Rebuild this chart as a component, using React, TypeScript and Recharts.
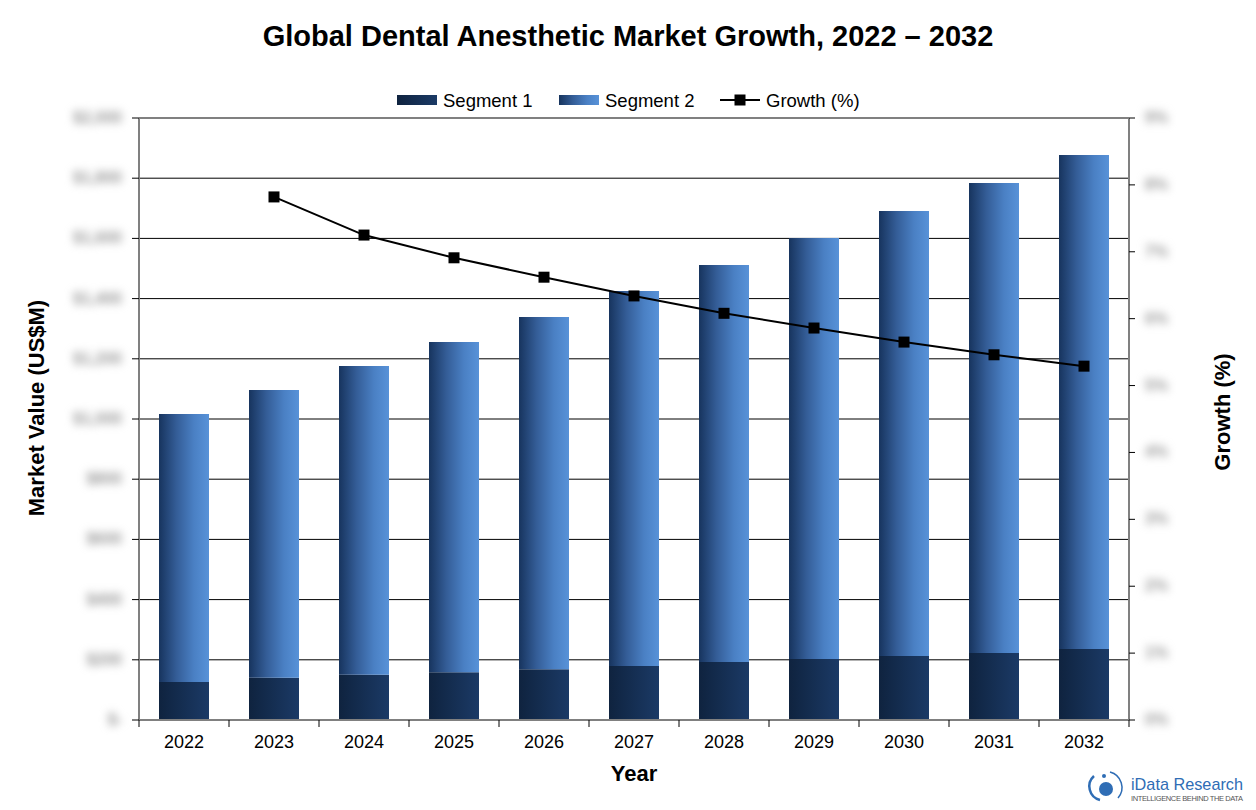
import React from 'react';
import {
  ComposedChart,
  Bar,
  Line,
  XAxis,
  YAxis,
  CartesianGrid,
  ReferenceLine,
} from 'recharts';

const years = ['2022', '2023', '2024', '2025', '2026', '2027', '2028', '2029', '2030', '2031', '2032'];
const segment1 = [126, 140, 150, 159, 169, 179, 193, 203, 213, 223, 236];
const segment2 = [891, 956, 1026, 1097, 1170, 1246, 1319, 1398, 1478, 1561, 1641];
const growth: (number | null)[] = [null, 7.82, 7.25, 6.91, 6.62, 6.34, 6.08, 5.86, 5.65, 5.46, 5.29];
const leftTicks = [0, 200, 400, 600, 800, 1000, 1200, 1400, 1600, 1800, 2000];
const rightTicks = [0, 1, 2, 3, 4, 5, 6, 7, 8, 9];

const data = years.map((y, i) => ({
  year: y,
  seg1: segment1[i],
  seg2: segment2[i],
  growth: growth[i],
}));

const W = 1256;
const H = 810;
const FONT = '"Liberation Sans", Arial, Helvetica, sans-serif';
const HALF_BAND = 45;

const fmtMoney = (v: number) => (v === 0 ? '$-' : '$' + v.toLocaleString('en-US'));

const LeftTick = (props: any) => {
  const { x, y, payload } = props;
  return (
    <text
      x={x}
      y={y}
      dy={5}
      textAnchor="end"
      fontFamily={FONT}
      fontWeight="bold"
      fontSize={16}
      fill="#9a9a9a"
      style={{ filter: 'blur(4.5px)' }}
    >
      {fmtMoney(payload.value)}
    </text>
  );
};

const RightTick = (props: any) => {
  const { x, y, payload } = props;
  return (
    <text
      x={x}
      y={y}
      dy={5}
      textAnchor="start"
      fontFamily={FONT}
      fontWeight="bold"
      fontSize={16}
      fill="#9a9a9a"
      style={{ filter: 'blur(4.5px)' }}
    >
      {payload.value + '%'}
    </text>
  );
};

const XTick = (props: any) => {
  const { x, y, payload, index } = props;
  const isLast = index === years.length - 1;
  return (
    <g>
      <line x1={x - HALF_BAND} x2={x - HALF_BAND} y1={y - 11} y2={y - 4} stroke="#000" strokeWidth={1} />
      {isLast && (
        <line x1={x + HALF_BAND} x2={x + HALF_BAND} y1={y - 11} y2={y - 4} stroke="#000" strokeWidth={1} />
      )}
      <text x={x} y={y} dy={17} textAnchor="middle" fontFamily={FONT} fontSize={18} fill="#000">
        {payload.value}
      </text>
    </g>
  );
};

const SquareDot = (props: any) => {
  const { cx, cy, value } = props;
  if (value === null || value === undefined || cx == null || cy == null) return null;
  return <rect x={cx - 5.5} y={cy - 5.5} width={11} height={11} fill="#000" />;
};

export default function App() {
  return (
    <div style={{ position: 'absolute', left: 0, top: 0, width: W, height: H, background: '#fff', fontFamily: FONT }}>
      <ComposedChart
        width={W}
        height={H}
        data={data}
        margin={{ top: 118, right: 67, bottom: 60, left: 79 }}
        barCategoryGap={40}
      >
        <CartesianGrid vertical={false} stroke="#000" strokeWidth={1} yAxisId="left" xAxisId="x" />
        <XAxis
          dataKey="year"
          xAxisId="x"
          height={30}
          tickLine={false}
          tickSize={7}
          tickMargin={4}
          axisLine={{ stroke: '#808080', strokeWidth: 2 }}
          tick={<XTick />}
          interval={0}
        />
        <YAxis
          yAxisId="left"
          width={60}
          domain={[0, 2000]}
          ticks={leftTicks}
          interval={0}
          tickSize={7}
          tickMargin={10}
          tickLine={{ stroke: '#000' }}
          axisLine={{ stroke: '#808080', strokeWidth: 2 }}
          tick={<LeftTick />}
        />
        <YAxis
          yAxisId="right"
          orientation="right"
          width={60}
          domain={[0, 9]}
          ticks={rightTicks}
          interval={0}
          tickSize={6}
          tickMargin={10}
          tickLine={{ stroke: '#000' }}
          axisLine={{ stroke: '#808080', strokeWidth: 2 }}
          tick={<RightTick />}
        />
        <ReferenceLine yAxisId="left" xAxisId="x" y={2000} stroke="#808080" strokeWidth={2} />
        <Bar
          dataKey="seg1"
          stackId="a"
          yAxisId="left"
          xAxisId="x"
          barSize={50}
          fill="url(#gradSeg1)"
          isAnimationActive={false}
        />
        <Bar
          dataKey="seg2"
          stackId="a"
          yAxisId="left"
          xAxisId="x"
          barSize={50}
          fill="url(#gradSeg2)"
          isAnimationActive={false}
        />
        <Line
          dataKey="growth"
          yAxisId="right"
          xAxisId="x"
          stroke="#000"
          strokeWidth={2}
          dot={<SquareDot />}
          activeDot={false}
          isAnimationActive={false}
        />
      </ComposedChart>

      <svg
        width={W}
        height={H}
        style={{ position: 'absolute', left: 0, top: 0, pointerEvents: 'none' }}
      >
        <defs>
          <linearGradient id="gradSeg1" x1="0" y1="0" x2="1" y2="0">
            <stop offset="0%" stopColor="#0f233f" />
            <stop offset="100%" stopColor="#1b3a66" />
          </linearGradient>
          <linearGradient id="gradSeg2" x1="0" y1="0" x2="1" y2="0">
            <stop offset="0%" stopColor="#17345e" />
            <stop offset="35%" stopColor="#345d97" />
            <stop offset="70%" stopColor="#4a80c4" />
            <stop offset="100%" stopColor="#5892d8" />
          </linearGradient>
        </defs>

        <text x={628} y={46} textAnchor="middle" fontFamily={FONT} fontWeight="bold" fontSize={29} fill="#000">
          Global Dental Anesthetic Market Growth, 2022 – 2032
        </text>

        {/* Legend */}
        <rect x={397} y={95} width={40} height={10} fill="url(#gradSeg1)" />
        <text x={443} y={107} fontFamily={FONT} fontSize={18.5} fill="#000">Segment 1</text>
        <rect x={559} y={95} width={40} height={10} fill="url(#gradSeg2)" />
        <text x={605} y={107} fontFamily={FONT} fontSize={18.5} fill="#000">Segment 2</text>
        <line x1={720} x2={760} y1={100} y2={100} stroke="#000" strokeWidth={2} />
        <rect x={734.5} y={94.5} width={11} height={11} fill="#000" />
        <text x={766} y={107} fontFamily={FONT} fontSize={18.5} fill="#000">Growth (%)</text>

        {/* Axis titles */}
        <text
          x={0}
          y={0}
          transform="translate(44,408) rotate(-90)"
          textAnchor="middle"
          fontFamily={FONT}
          fontWeight="bold"
          fontSize={22}
          fill="#000"
        >
          Market Value (US$M)
        </text>
        <text
          x={0}
          y={0}
          transform="translate(1230,412) rotate(-90)"
          textAnchor="middle"
          fontFamily={FONT}
          fontWeight="bold"
          fontSize={22}
          fill="#000"
        >
          Growth (%)
        </text>
        <text x={634} y={781} textAnchor="middle" fontFamily={FONT} fontWeight="bold" fontSize={22} fill="#000">
          Year
        </text>

        {/* Logo */}
        <g>
          <path d="M1094 776 A 14 14 0 0 0 1100 800" fill="none" stroke="#2f6db5" strokeWidth={2.5} />
          <circle cx={1104} cy={776} r={2} fill="#2f6db5" />
          <circle cx={1106} cy={789} r={7} fill="#2f6db5" />
          <path d="M1110 772 A 16 16 0 0 1 1118 798" fill="none" stroke="#2f6db5" strokeWidth={1.5} />
          <text x={1131} y={790} fontFamily={FONT} fontSize={17} fill="#2f6db5" textLength={112} lengthAdjust="spacingAndGlyphs">
            iData Research
          </text>
          <text x={1131} y={801} fontFamily={FONT} fontSize={7.5} fill="#555" textLength={112} lengthAdjust="spacing">
            INTELLIGENCE BEHIND THE DATA
          </text>
        </g>
      </svg>
    </div>
  );
}
